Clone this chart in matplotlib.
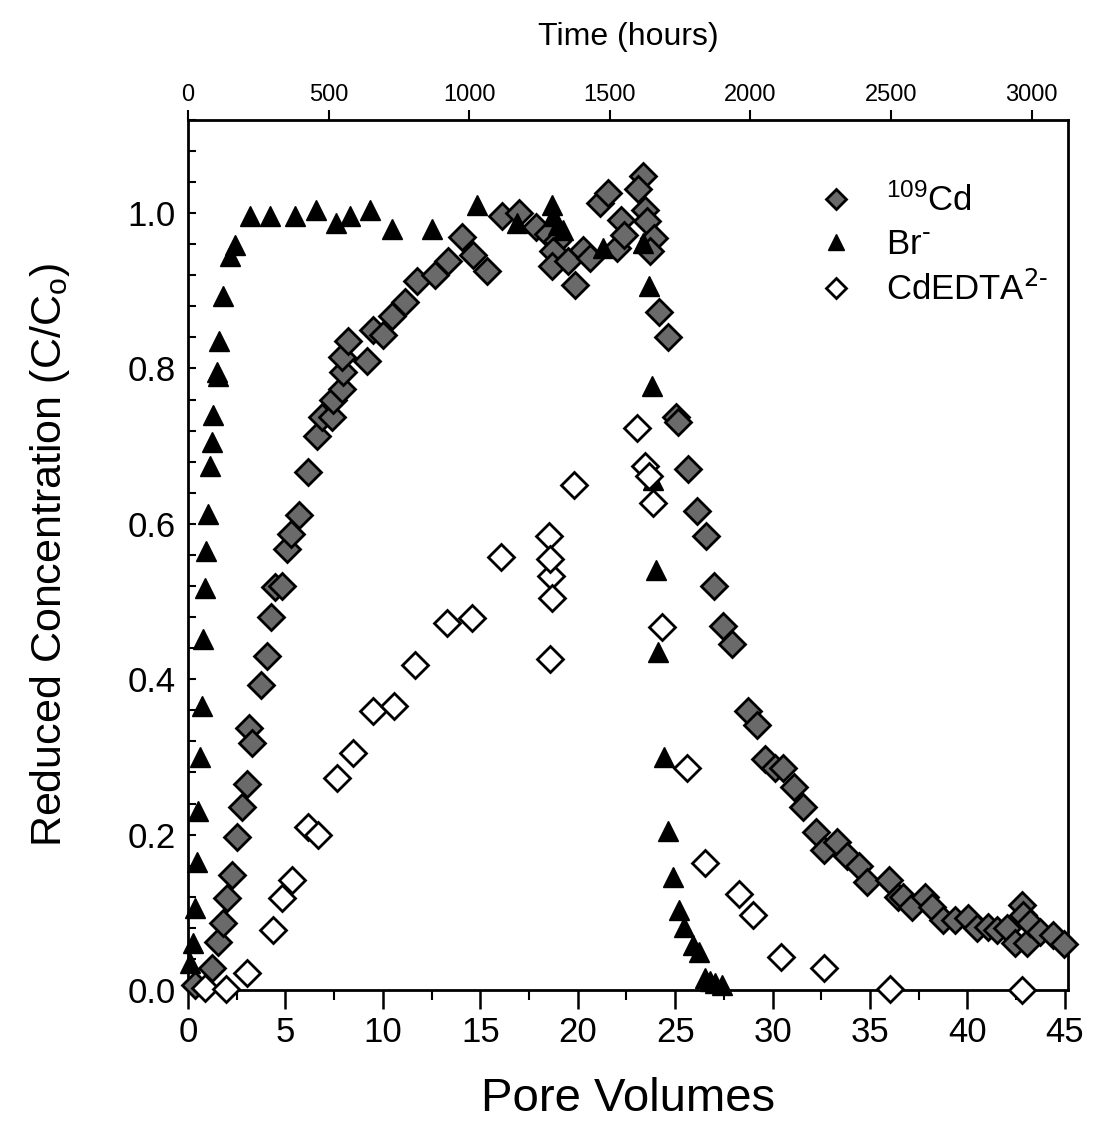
import matplotlib
matplotlib.use("Agg")
import matplotlib.pyplot as plt
from matplotlib.ticker import MultipleLocator

plt.rcParams['font.family'] = ['Liberation Sans', 'DejaVu Sans']
plt.rcParams['mathtext.default'] = 'regular'

# 109Cd (pore volumes, C/Co)
cd_pv = [0.36, 1.23, 1.54, 1.80, 2.00, 2.26, 2.51, 2.77, 3.03, 3.13, 3.28, 3.75, 4.05, 4.26, 4.46,
         4.82, 5.08, 5.28, 5.70, 6.16, 6.62, 6.88, 7.39, 7.44, 7.90, 7.95, 7.92, 8.21, 9.18, 9.49,
         10.01, 10.47, 11.13, 11.75, 12.67, 13.34, 14.06, 14.62, 15.34, 16.11, 16.98, 17.86, 18.47,
         18.93, 18.73, 18.68, 19.50, 19.86, 20.27, 20.63, 21.14, 21.55, 22.01, 22.22, 22.37, 23.35,
         23.09, 23.45, 23.55, 23.91, 23.71, 24.17, 24.63, 25.04, 25.14, 25.65, 26.12, 26.58, 26.99,
         27.45, 27.91, 28.73, 29.19, 29.60, 30.12, 30.53, 31.09, 31.55, 32.22, 32.63, 33.30, 33.81,
         34.43, 34.84, 35.97, 36.43, 36.69, 37.15, 37.81, 38.17, 38.74, 39.35, 40.02, 40.48,
         41.05, 41.51, 42.02, 42.43, 42.79, 42.84, 43.05, 43.20, 43.71, 44.38, 44.95]
cd_c = [0.006, 0.028, 0.062, 0.086, 0.119, 0.148, 0.197, 0.236, 0.265, 0.337, 0.318, 0.392, 0.43,
        0.48, 0.519, 0.52, 0.568, 0.587, 0.612, 0.667, 0.713, 0.738, 0.738, 0.759, 0.774, 0.796,
        0.815, 0.836, 0.809, 0.849, 0.843, 0.867, 0.885, 0.913, 0.920, 0.938, 0.969, 0.946, 0.925,
        0.996, 1.0, 0.982, 0.973, 0.964, 0.951, 0.932, 0.939, 0.907, 0.952, 0.942, 1.013, 1.026,
        0.955, 0.991, 0.972, 1.048, 1.031, 1.004, 0.99, 0.968, 0.951, 0.873, 0.841, 0.737, 0.731,
        0.671, 0.617, 0.585, 0.52, 0.468, 0.445, 0.359, 0.341, 0.297, 0.286, 0.286, 0.261, 0.236,
        0.203, 0.18, 0.191, 0.172, 0.159, 0.139, 0.141, 0.12, 0.12, 0.107, 0.12, 0.107, 0.09,
        0.09, 0.092, 0.08, 0.081, 0.077, 0.08, 0.061, 0.11, 0.097, 0.061, 0.086, 0.074, 0.071, 0.059]

# Br- (pore volumes, C/Co)
br_pv = [0.10, 0.26, 0.36, 0.46, 0.51, 0.62, 0.72, 0.77, 0.87, 0.92, 1.03, 1.13, 1.23, 1.28, 1.49,
         1.52, 1.59, 1.80, 2.15, 2.41, 3.18, 4.21, 5.49, 6.57, 7.59, 8.31, 9.34, 10.47, 12.52,
         14.83, 16.88, 18.67, 18.72, 18.97, 19.23, 21.28, 23.34, 23.65, 23.81, 23.86, 24.01, 24.11,
         24.42, 24.63, 24.88, 25.19, 25.45, 25.91, 26.22, 26.53, 26.78, 27.04, 27.4]
br_c = [0.035, 0.06, 0.105, 0.165, 0.23, 0.30, 0.365, 0.452, 0.517, 0.565, 0.613, 0.674, 0.706,
        0.74, 0.796, 0.79, 0.835, 0.893, 0.945, 0.959, 0.996, 0.996, 0.996, 1.004, 0.987, 0.996,
        1.004, 0.98, 0.98, 1.01, 0.987, 1.01, 0.996, 0.985, 0.978, 0.955, 0.961, 0.906, 0.778,
        0.656, 0.54, 0.435, 0.30, 0.204, 0.146, 0.103, 0.081, 0.058, 0.049, 0.016, 0.011, 0.009,
        0.007]

# CdEDTA2- (pore volumes, C/Co)
edta_pv = [0.87, 1.95, 3.03, 4.36, 4.82, 5.34, 6.16, 6.67, 7.64, 8.47, 9.49, 10.57, 11.65, 13.29,
           14.57, 16.06, 18.52, 18.62, 18.68, 18.57, 18.60, 19.80, 23.04, 23.45, 23.65, 23.86,
           24.32, 25.60, 26.53, 28.27, 28.99, 30.43, 32.63, 36.02, 42.79]
edta_c = [0.003, 0.001, 0.022, 0.077, 0.119, 0.141, 0.21, 0.199, 0.273, 0.305, 0.359, 0.365,
          0.418, 0.473, 0.479, 0.557, 0.585, 0.533, 0.505, 0.555, 0.426, 0.65, 0.723, 0.675,
          0.662, 0.627, 0.467, 0.286, 0.164, 0.124, 0.097, 0.043, 0.028, 0.001, 0.0]

hours_per_pv = 69.3
top_ticks = [0, 500, 1000, 1500, 2000, 2500, 3000]

fig = plt.figure(figsize=(10.93, 11.43), dpi=100)
ax = fig.add_axes([0.172, 0.1339, 0.805, 0.7612])

ax.plot(cd_pv, cd_c, linestyle='none', marker='D', ms=13, mfc='#6a6a6a', mec='black',
        mew=2.0, label='$^{109}$Cd', clip_on=False, zorder=3)
ax.plot(br_pv, br_c, linestyle='none', marker='^', ms=15, mfc='black', mec='black',
        mew=1, label=r'Br$^{\text{-}}$', clip_on=False, zorder=4)
ax.plot(edta_pv, edta_c, linestyle='none', marker='D', ms=13, mfc='white', mec='black',
        mew=2.0, label=r'CdEDTA$^{\text{2-}}$', clip_on=False, zorder=5)

ax.set_xlim(0, 45.15)
ax.set_ylim(0, 1.12)
ax.xaxis.set_major_locator(MultipleLocator(5))
ax.xaxis.set_minor_locator(MultipleLocator(2.5))
ax.yaxis.set_major_locator(MultipleLocator(0.2))
ax.yaxis.set_minor_locator(MultipleLocator(0.04))
ax.yaxis.set_major_formatter(plt.FuncFormatter(lambda v, p: f"{v:.1f}"))

ax.tick_params(axis='x', which='major', direction='out', length=14, width=1.8,
               labelsize=25, pad=5)
ax.tick_params(axis='x', which='minor', direction='out', length=7, width=1.5)
ax.tick_params(axis='y', which='both', direction='in', length=6, width=1.5,
               labelsize=25, pad=9)
for s in ax.spines.values():
    s.set_linewidth(2.0)

ax.set_xlabel('Pore Volumes', fontsize=34, labelpad=20)
ax.set_ylabel('Reduced Concentration (C/C$_o$)', fontsize=31, labelpad=40)

sec = ax.secondary_xaxis('top', functions=(lambda x: x * hours_per_pv,
                                           lambda h: h / hours_per_pv))
sec.set_xticks(top_ticks)
sec.tick_params(axis='x', direction='out', length=7, width=1.5, labelsize=17, pad=3)
sec.set_xlabel('Time (hours)', fontsize=23, labelpad=28)

leg = ax.legend(loc='upper right', bbox_to_anchor=(1.006, 0.955), frameon=False,
                fontsize=25, handletextpad=0.45, labelspacing=0.3, borderaxespad=0.3,
                markerscale=0.75)

fig.savefig('out.png', dpi=100)
